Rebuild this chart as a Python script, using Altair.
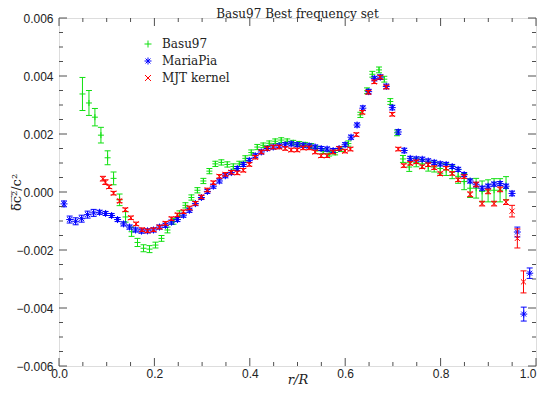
import altair as alt
import pandas as pd

TITLE = "Basu97 Best frequency set"
SERIES = ["Basu97", "MariaPia", "MJT kernel"]
COLORS = ["#10e010", "#0000ff", "#ff0000"]

basu_r = [0.0492, 0.0628, 0.0753, 0.0879, 0.1019, 0.1144, 0.1270, 0.1395, 0.1521, 0.1646,
          0.1772, 0.1897, 0.2023, 0.2149, 0.2274, 0.2400, 0.2525, 0.2651, 0.2776, 0.2902,
          0.3027, 0.3153, 0.3278, 0.3404, 0.3529, 0.3655, 0.3780, 0.3906, 0.4031, 0.4157,
          0.4282, 0.4408, 0.4533, 0.4659, 0.4785, 0.4910, 0.5036, 0.5161, 0.5287, 0.5412,
          0.5538, 0.5663, 0.5789, 0.5914, 0.6067, 0.6318, 0.6458, 0.6569, 0.6709, 0.6820,
          0.6946, 0.7086, 0.7211, 0.7343, 0.7490, 0.7615, 0.7741, 0.7866, 0.7992, 0.8117,
          0.8243, 0.8368, 0.8494, 0.8619, 0.8745, 0.8870, 0.8996, 0.9121, 0.9247, 0.9372]
basu_v = [0.00338, 0.00307, 0.00258, 0.00196, 0.00118, 0.00047, -0.00027, -0.00086, -0.00137, -0.00174,
          -0.00194, -0.00197, -0.00183, -0.00160, -0.00131, -0.00101, -0.00074, -0.00046, -0.00019, 0.00006,
          0.00038, 0.00072, 0.00097, 0.00102, 0.00095, 0.00088, 0.00097, 0.00116, 0.00136, 0.00155,
          0.00161, 0.00168, 0.00175, 0.00179, 0.00175, 0.00170, 0.00166, 0.00163, 0.00159, 0.00150,
          0.00141, 0.00132, 0.00136, 0.00148, 0.00167, 0.00266, 0.00349, 0.00406, 0.00421, 0.00389,
          0.00312, 0.00204, 0.00114, 0.00086, 0.00102, 0.00097, 0.00088, 0.00086, 0.00081, 0.00077,
          0.00068, 0.00054, 0.00036, 0.00013, 0.00013, 0.00002, 0.00004, 0.00006, 0.00006, 0.00013]
basu_err = [0.00057, 0.00043, 0.00030, 0.00027, 0.00024, 0.00022, 0.00020, 0.00018, 0.00016, 0.00014,
            0.00012, 0.00012, 0.00010, 0.00010, 0.00010, 0.00010, 0.00009, 0.00009, 0.00009, 0.00009,
            0.00009, 0.00009, 0.00009, 0.00009, 0.00009, 0.00009, 0.00009, 0.00009, 0.00009, 0.00009,
            0.00008, 0.00008, 0.00008, 0.00008, 0.00008, 0.00008, 0.00008, 0.00008, 0.00008, 0.00008,
            0.00008, 0.00008, 0.00008, 0.00008, 0.00009, 0.00009, 0.00010, 0.00010, 0.00010, 0.00010,
            0.00010, 0.00010, 0.00012, 0.00015, 0.00015, 0.00015, 0.00016, 0.00017, 0.00018, 0.00020,
            0.00022, 0.00024, 0.00028, 0.00032, 0.00034, 0.00036, 0.00038, 0.00040, 0.00040, 0.00040]

mp_r = [0.0105, 0.0224, 0.0349, 0.0475, 0.0600, 0.0726, 0.0851, 0.0977, 0.1103, 0.1228,
        0.1354, 0.1479, 0.1605, 0.1730, 0.1856, 0.1981, 0.2107, 0.2232, 0.2358, 0.2483,
        0.2609, 0.2734, 0.2860, 0.2985, 0.3111, 0.3236, 0.3362, 0.3487, 0.3613, 0.3738,
        0.3864, 0.3990, 0.4115, 0.4241, 0.4366, 0.4492, 0.4617, 0.4743, 0.4868, 0.4994,
        0.5119, 0.5245, 0.5370, 0.5496, 0.5621, 0.5747, 0.5872, 0.5998, 0.6123, 0.6249,
        0.6370, 0.6492, 0.6611, 0.6736, 0.6862, 0.6987, 0.7113, 0.7238, 0.7364, 0.7490,
        0.7615, 0.7741, 0.7866, 0.7992, 0.8117, 0.8243, 0.8368, 0.8494, 0.8619, 0.8745,
        0.8870, 0.8996, 0.9121, 0.9247, 0.9372, 0.9498, 0.9609, 0.9743, 0.9868]
mp_v = [-0.00041, -0.00095, -0.00101, -0.00092, -0.00078, -0.00072, -0.00070, -0.00074, -0.00081, -0.00095,
        -0.00110, -0.00121, -0.00131, -0.00135, -0.00134, -0.00131, -0.00121, -0.00115, -0.00104, -0.00095,
        -0.00080, -0.00063, -0.00040, -0.00019, 0.00002, 0.00020, 0.00038, 0.00056, 0.00067, 0.00081,
        0.00095, 0.00109, 0.00125, 0.00138, 0.00150, 0.00155, 0.00159, 0.00163, 0.00166, 0.00163,
        0.00161, 0.00159, 0.00155, 0.00150, 0.00148, 0.00143, 0.00150, 0.00163, 0.00189, 0.00231,
        0.00289, 0.00346, 0.00391, 0.00396, 0.00364, 0.00291, 0.00207, 0.00143, 0.00116, 0.00114,
        0.00113, 0.00107, 0.00102, 0.00097, 0.00095, 0.00088, 0.00078, 0.00060, 0.00038, 0.00025,
        0.00013, 0.00020, 0.00027, 0.00029, 0.00020, -0.00005, -0.00138, -0.00421, -0.00280]
mp_err = [0.00010, 0.00012, 0.00012, 0.00012, 0.00012, 0.00012, 0.00007, 0.00007, 0.00007, 0.00007,
          0.00007, 0.00007, 0.00007, 0.00007, 0.00007, 0.00007, 0.00007, 0.00007, 0.00007, 0.00007,
          0.00007, 0.00007, 0.00007, 0.00007, 0.00007, 0.00007, 0.00007, 0.00007, 0.00007, 0.00007,
          0.00007, 0.00007, 0.00007, 0.00007, 0.00007, 0.00007, 0.00007, 0.00007, 0.00007, 0.00007,
          0.00007, 0.00007, 0.00007, 0.00007, 0.00007, 0.00007, 0.00007, 0.00007, 0.00007, 0.00007,
          0.00008, 0.00008, 0.00008, 0.00008, 0.00008, 0.00008, 0.00008, 0.00008, 0.00007, 0.00007,
          0.00007, 0.00007, 0.00007, 0.00007, 0.00007, 0.00007, 0.00007, 0.00007, 0.00007, 0.00007,
          0.00007, 0.00007, 0.00007, 0.00007, 0.00007, 0.00008, 0.00017, 0.00024, 0.00018]

mjt_r = [0.0921, 0.0973, 0.1052, 0.1144, 0.1270, 0.1391, 0.1506, 0.1617, 0.1743, 0.1856,
         0.1981, 0.2107, 0.2232, 0.2358, 0.2483, 0.2609, 0.2734, 0.2860, 0.2985, 0.3111,
         0.3236, 0.3362, 0.3487, 0.3613, 0.3738, 0.3864, 0.3990, 0.4115, 0.4241, 0.4366,
         0.4492, 0.4617, 0.4743, 0.4868, 0.4994, 0.5119, 0.5245, 0.5370, 0.5496, 0.5621,
         0.5747, 0.5872, 0.5994, 0.6109, 0.6234, 0.6360, 0.6485, 0.6611, 0.6736, 0.6862,
         0.6987, 0.7113, 0.7228, 0.7364, 0.7490, 0.7615, 0.7741, 0.7866, 0.7992, 0.8117,
         0.8243, 0.8368, 0.8494, 0.8619, 0.8745, 0.8870, 0.8996, 0.9121, 0.9247, 0.9372,
         0.9498, 0.9609, 0.9738]
mjt_v = [0.00046, 0.00034, 0.00018, -0.00004, -0.00031, -0.00061, -0.00089, -0.00110, -0.00130, -0.00134,
         -0.00130, -0.00121, -0.00108, -0.00092, -0.00079, -0.00068, -0.00055, -0.00039, -0.00017, 0.00007,
         0.00032, 0.00054, 0.00061, 0.00068, 0.00066, 0.00075, 0.00095, 0.00120, 0.00138, 0.00150,
         0.00155, 0.00155, 0.00150, 0.00145, 0.00145, 0.00152, 0.00152, 0.00138, 0.00125, 0.00125,
         0.00138, 0.00150, 0.00141, 0.00148, 0.00198, 0.00275, 0.00344, 0.00380, 0.00396, 0.00362,
         0.00268, 0.00148, 0.00091, 0.00099, 0.00104, 0.00087, 0.00094, 0.00084, 0.00063, 0.00082,
         0.00064, 0.00042, 0.00053, -0.00008, 0.00026, -0.00040, 0.00002, -0.00040, 0.00009, -0.00035,
         -0.00066, -0.00160, -0.00310]
mjt_err = [0.00008, 0.00008, 0.00006, 0.00006, 0.00006, 0.00006, 0.00006, 0.00006, 0.00006, 0.00006,
           0.00006, 0.00006, 0.00006, 0.00006, 0.00006, 0.00006, 0.00006, 0.00006, 0.00006, 0.00006,
           0.00006, 0.00006, 0.00006, 0.00006, 0.00006, 0.00006, 0.00006, 0.00006, 0.00006, 0.00006,
           0.00006, 0.00006, 0.00006, 0.00006, 0.00006, 0.00006, 0.00006, 0.00006, 0.00006, 0.00006,
           0.00006, 0.00006, 0.00006, 0.00006, 0.00006, 0.00006, 0.00006, 0.00006, 0.00006, 0.00006,
           0.00006, 0.00006, 0.00006, 0.00006, 0.00006, 0.00006, 0.00006, 0.00006, 0.00006, 0.00006,
           0.00006, 0.00006, 0.00006, 0.00008, 0.00008, 0.00008, 0.00008, 0.00008, 0.00008, 0.00008,
           0.00020, 0.00033, 0.00038]

x_major = [0.0, 0.2, 0.4, 0.6, 0.8, 1.0]
x_minor = [0.05, 0.1, 0.15, 0.25, 0.3, 0.35, 0.45, 0.5, 0.55, 0.65, 0.7, 0.75, 0.85, 0.9, 0.95]
y_major = [-0.006, -0.004, -0.002, 0.0, 0.002, 0.004, 0.006]
y_minor = [-0.0055, -0.005, -0.0045, -0.0035, -0.003, -0.0025, -0.0015, -0.001, -0.0005,
           0.0005, 0.001, 0.0015, 0.0025, 0.003, 0.0035, 0.0045, 0.005, 0.0055]

# ---------------------------------------------------------------- layout / style
W, H = 477, 348
FRAME = "#505050"
TXT = "#222222"
PLUS = "M-1,0L1,0M0,-1L0,1"
STAR = "M-1,0L1,0M0,-1L0,1M-0.7,-0.7L0.7,0.7M-0.7,0.7L0.7,-0.7"
CROSS = "M-0.85,-0.85L0.85,0.85M-0.85,0.85L0.85,-0.85"
CAP = "M-1,0L1,0"
SHAPES = [PLUS, STAR, CROSS]
SIZES = [36, 49, 36]

rows = []
for name, rs, vs, es in [("Basu97", basu_r, basu_v, basu_err),
                         ("MariaPia", mp_r, mp_v, mp_err),
                         ("MJT kernel", mjt_r, mjt_v, mjt_err)]:
    for r, v, e in zip(rs, vs, es):
        rows.append({"series": name, "r": r, "v": v, "lo": v - e, "hi": v + e})
df = pd.DataFrame(rows)

XS = alt.Scale(domain=[0, 1], nice=False, zero=False)
YS = alt.Scale(domain=[-0.006, 0.006], nice=False, zero=False)

XAXIS = alt.Axis(values=x_major, format=".1f", ticks=False, domain=False, grid=False,
                 labelFlush=False, labelFont="Liberation Sans", labelFontSize=12,
                 labelColor=TXT, labelPadding=2,
                 labelAlign={"condition": {"test": "datum.value >= 1", "value": "right"},
                             "value": "center"},
                 title="r/R", titleFont="DejaVu Serif", titleFontStyle="italic",
                 titleFontWeight="normal", titleFontSize=13, titleColor=TXT,
                 titleBaseline="alphabetic", titleY=17, titleX=W / 2)
YAXIS = alt.Axis(values=y_major, format=".3f", ticks=False, domain=False, grid=False,
                 labelFlush=False, labelFont="Liberation Sans", labelFontSize=12,
                 labelColor=TXT, labelPadding=6,
                 title="δ\u0305c\u0305\u00b2\u0305/c\u00b2", titleFont="DejaVu Serif",
                 titleFontWeight="normal",
                 titleFontSize=13, titleColor=TXT, titleAngle=270, titleAlign="center",
                 titleBaseline="bottom", titleX=-36, titleY=H / 2)


def xenc():
    return alt.X("r:Q", scale=XS, axis=XAXIS)


def yenc(field):
    return alt.Y(field + ":Q", scale=YS, axis=YAXIS)


LEG = alt.Legend(orient="none", legendX=83, legendY=20, padding=0, rowPadding=5,
                 labelFont="DejaVu Serif", labelFontSize=12, labelColor=TXT,
                 labelOffset=8, symbolSize=49, symbolStrokeWidth=1)
CS = alt.Scale(domain=SERIES, range=COLORS)
SS = alt.Scale(domain=SERIES, range=SHAPES)

layers = []
for name, col, size in zip(SERIES, COLORS, SIZES):
    base = alt.Chart(df).transform_filter(alt.datum.series == name)
    layers.append(base.mark_rule(strokeWidth=1, color=col).encode(
        x=xenc(), y=yenc("lo"), y2="hi:Q"))
    for f in ["lo", "hi"]:
        layers.append(base.mark_point(shape=CAP, size=36, filled=False, strokeWidth=1,
                                      opacity=1, color=col).encode(x=xenc(), y=yenc(f)))
    layers.append(base.mark_point(filled=False, strokeWidth=1, opacity=1, size=size).encode(
        x=xenc(), y=yenc("v"),
        color=alt.Color("series:N", scale=CS, legend=LEG, title=None),
        shape=alt.Shape("series:N", scale=SS, legend=LEG, title=None)))

# inward frame ticks
for vals, ln in [(x_major, 8), (x_minor, 4)]:
    d = pd.DataFrame({"r": vals})
    layers.append(alt.Chart(d).mark_rule(color=FRAME, strokeWidth=1).encode(
        x=xenc(), y=alt.value(H), y2=alt.value(H - ln)))
    layers.append(alt.Chart(d).mark_rule(color=FRAME, strokeWidth=1).encode(
        x=xenc(), y=alt.value(0), y2=alt.value(ln)))
for vals, ln in [(y_major, 8), (y_minor, 4)]:
    d = pd.DataFrame({"v": vals})
    layers.append(alt.Chart(d).mark_rule(color=FRAME, strokeWidth=1).encode(
        y=yenc("v"), x=alt.value(0), x2=alt.value(ln)))
    layers.append(alt.Chart(d).mark_rule(color=FRAME, strokeWidth=1).encode(
        y=yenc("v"), x=alt.value(W), x2=alt.value(W - ln)))

chart = alt.layer(*layers).properties(
    width=W, height=H,
    padding={"left": 51, "top": 10, "right": 1, "bottom": 19},
    autosize=alt.AutoSizeParams(type="none"),
    title=alt.TitleParams(TITLE, font="DejaVu Serif", fontSize=12, fontWeight="normal",
                          color=TXT, anchor="middle", frame="group",
                          baseline="alphabetic", offset=-18),
).configure_view(stroke=FRAME, strokeWidth=1).configure(background="white")

chart.save("out.html", embed_options={"renderer": "svg", "actions": False})
